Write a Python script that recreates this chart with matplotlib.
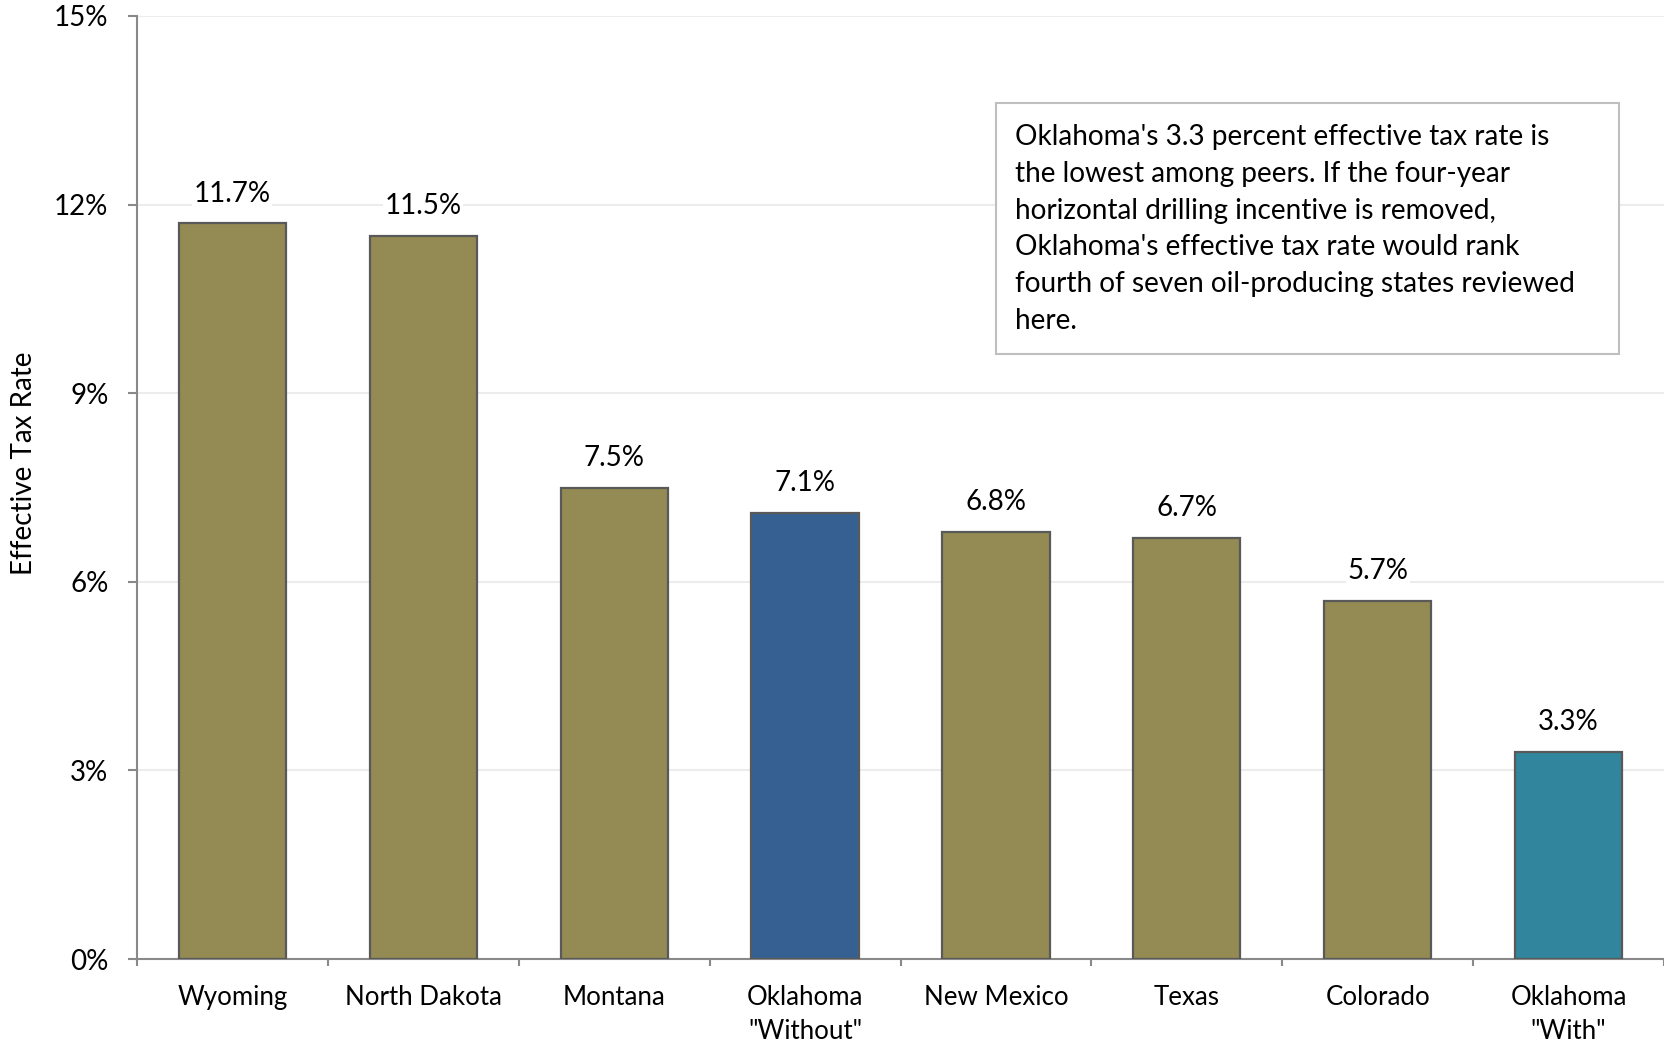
import matplotlib
matplotlib.use("Agg")
import matplotlib.pyplot as plt
from matplotlib.ticker import FuncFormatter

categories = ["Wyoming", "North Dakota", "Montana", "Oklahoma\n\"Without\"",
              "New Mexico", "Texas", "Colorado", "Oklahoma\n\"With\""]
values = [11.7, 11.5, 7.5, 7.1, 6.8, 6.7, 5.7, 3.3]
labels = ["11.7%", "11.5%", "7.5%", "7.1%", "6.8%", "6.7%", "5.7%", "3.3%"]
colors = ["#948A54", "#948A54", "#948A54", "#366092",
          "#948A54", "#948A54", "#948A54", "#31859C"]
yticks = [0, 3, 6, 9, 12, 15]
note = ("Oklahoma's 3.3 percent effective tax rate is\n"
        "the lowest among peers. If the four-year\n"
        "horizontal drilling incentive is removed,\n"
        "Oklahoma's effective tax rate would rank\n"
        "fourth of seven oil-producing states reviewed\n"
        "here.")

plt.rcParams['font.family'] = ['Lato', 'DejaVu Sans']

W, H = 1664, 1042
step = 192.3
fig = plt.figure(figsize=(W / 100, H / 100), dpi=100)
left, right, top, bottom = 137, 1664, 16, 959
ax = fig.add_axes([left / W, 1 - bottom / H, (right - left) / W, (bottom - top) / H])

x = list(range(len(values)))
ax.bar(x, values, width=108 / step, color=colors, edgecolor="#595959", linewidth=1.6, zorder=3)
for xi, v, lab in zip(x, values, labels):
    ax.annotate(lab, (xi, v), xytext=(0, 21.5), textcoords="offset points",
                ha="center", va="center", fontsize=20, color="#000000", zorder=4,
                bbox=dict(facecolor="white", edgecolor="none", pad=1))

ax.set_xlim(-0.5, -0.5 + (right - left) / step)
ax.set_ylim(0, 15)
ax.set_yticks(yticks)
ax.yaxis.set_major_formatter(FuncFormatter(lambda v, p: f"{v:.0f}%"))
ax.set_xticks(x)
ax.set_xticklabels(categories, fontsize=18.6, linespacing=1.42)
ax.set_xticks([i - 0.5 for i in range(len(values) + 1)], minor=True)
ax.tick_params(axis="x", which="major", length=0, pad=19)
ax.tick_params(axis="x", which="minor", length=5, width=1.5, color="#898989")
ax.tick_params(axis="y", length=6.5, width=1.5, color="#898989", pad=14, labelsize=20)
ax.grid(axis="y", color="#ececec", linewidth=1.5, zorder=0)
ax.set_axisbelow(True)
for s in ["top", "right"]:
    ax.spines[s].set_visible(False)
for s in ["left", "bottom"]:
    ax.spines[s].set_color("#898989")
    ax.spines[s].set_linewidth(1.5)

fig.text(24 / W, 1 - 463 / H, "Effective Tax Rate", rotation=90, ha="center", va="center", fontsize=20)

# note box
bx0, by0, bx1, by1 = 996, 103, 1619, 354
fig.patches.append(plt.Rectangle((bx0 / W, 1 - by1 / H), (bx1 - bx0) / W, (by1 - by0) / H,
                                 transform=fig.transFigure, facecolor="white",
                                 edgecolor="#bfbfbf", linewidth=1.5, zorder=5))
fig.text(1015 / W, 1 - 229 / H, note, ha="left", va="center", fontsize=20.2,
         linespacing=1.52, zorder=6)

fig.savefig("out.png", dpi=100, facecolor="white")
